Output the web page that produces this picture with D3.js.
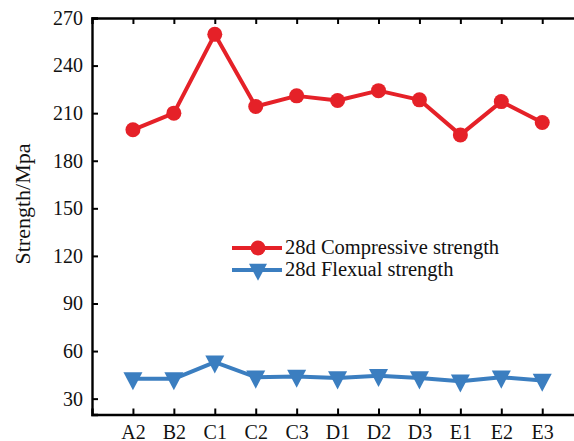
<!DOCTYPE html>
<html><head><meta charset="utf-8">
<script src="https://cdn.jsdelivr.net/npm/d3@7/dist/d3.min.js"></script>
<style>body{margin:0;background:#fff;} svg{display:block;}</style>
</head><body>
<svg id="c" width="574" height="441"></svg>
<script>
const categories = ["A2","B2","C1","C2","C3","D1","D2","D3","E1","E2","E3"];
const compressive = [199.5,210,259.7,214.2,220.9,218,224.2,218.4,196.3,217.3,204.1];
const flexural = [42.5,42.5,53,43.5,44,43,44.5,43,41,43.5,41.5];
const yTicks = [30,60,90,120,150,180,210,240,270];
const seriesNames = ["28d Compressive strength","28d Flexual strength"];

(function(){
const svg = d3.select("#c");
const font = "'Liberation Serif','Times New Roman',serif";
const mLeft = 92, mTop = 18, mBottom = 414.5;
const step = 40.93;
const x = d3.scaleLinear().domain([0, 12]).range([mLeft, mLeft + 12*step]);
const y = d3.scaleLinear().domain([20, 270]).range([mBottom, mTop]);
const red = "#e52128", blue = "#3b7ec0";

const xb = svg.append("g").attr("transform",`translate(0,${mBottom})`)
  .call(d3.axisBottom(x).tickValues(d3.range(1,12)).tickSize(-6).tickPadding(10)
    .tickFormat(i=>categories[i-1]));
const xt = svg.append("g").attr("transform",`translate(0,${mTop})`)
  .call(d3.axisTop(x).tickValues(d3.range(1,12)).tickSize(-6).tickFormat(""));
const yl = svg.append("g").attr("transform",`translate(${mLeft},0)`)
  .call(d3.axisLeft(y).tickValues(yTicks).tickSize(-6).tickPadding(9));
[xb,xt,yl].forEach(g=>{
  g.select(".domain").attr("stroke","#000").attr("stroke-width",2.4);
  g.selectAll(".tick line").attr("stroke","#000").attr("stroke-width",2);
  g.selectAll("text").attr("font-family",font).attr("font-size",20).attr("fill","#111");
});
xb.selectAll("text").attr("y",0).attr("dy",0).attr("transform","translate(0,24)");

svg.append("text").attr("transform",`translate(30,204) rotate(-90)`)
  .attr("text-anchor","middle").attr("font-family",font).attr("font-size",22)
  .attr("fill","#111").text("Strength/Mpa");

const line = d3.line().x((d,i)=>x(i+1)).y(d=>y(d));
svg.append("path").datum(compressive).attr("d",line).attr("fill","none")
  .attr("stroke",red).attr("stroke-width",4).attr("stroke-linejoin","round");
svg.selectAll(".cm").data(compressive).enter().append("circle")
  .attr("cx",(d,i)=>x(i+1)).attr("cy",d=>y(d)).attr("r",7.5).attr("fill",red);

svg.append("path").datum(flexural).attr("d",line).attr("fill","none")
  .attr("stroke",blue).attr("stroke-width",4).attr("stroke-linejoin","round");
const tri = (cx,cy,s)=>`M${cx-s},${cy-s*0.7}L${cx+s},${cy-s*0.7}L${cx},${cy+s*1.2}Z`;
svg.selectAll(".fm").data(flexural).enter().append("path")
  .attr("d",(d,i)=>tri(x(i+1),y(d),9.5)).attr("fill",blue);

const lg = svg.append("g");
const ly = [248, 270];
const lcol = [red, blue];
seriesNames.forEach((n,k)=>{
  lg.append("line").attr("x1",232).attr("x2",282).attr("y1",ly[k]).attr("y2",ly[k])
    .attr("stroke",lcol[k]).attr("stroke-width",4);
  if(k===0) lg.append("circle").attr("cx",258).attr("cy",ly[k]).attr("r",7.5).attr("fill",red);
  else lg.append("path").attr("d",tri(258,ly[k],9)).attr("fill",blue);
  lg.append("text").attr("x",285).attr("y",ly[k]+6).attr("font-family",font)
    .attr("font-size",20.5).attr("fill","#111").text(n);
});
})();
</script>
</body></html>
